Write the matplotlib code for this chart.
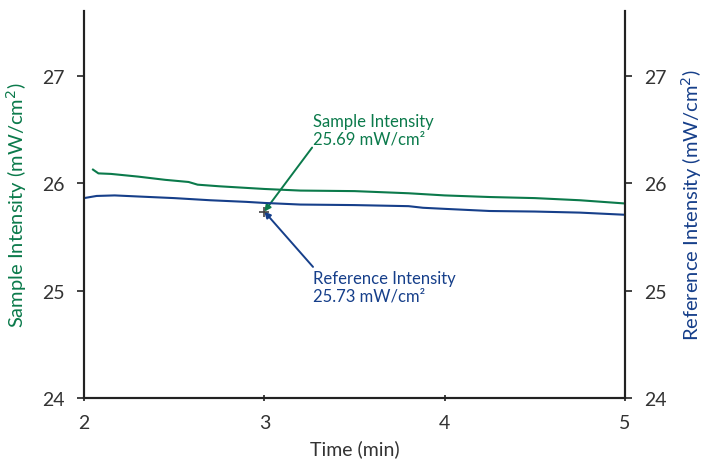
import matplotlib
matplotlib.use("Agg")
import matplotlib.pyplot as plt

GREEN = "#0b7a4b"
BLUE = "#163f8a"
GRAY = "#333333"

# Sample intensity trace (min, mW/cm2)
sample_time = [2.05, 2.08, 2.15, 2.3, 2.45, 2.58, 2.63, 2.75, 2.9, 3.0, 3.2,
               3.5, 3.8, 4.0, 4.25, 4.5, 4.75, 5.0]
sample_vals = [26.125, 26.09, 26.085, 26.06, 26.03, 26.01, 25.985, 25.97,
               25.955, 25.945, 25.93, 25.925, 25.905, 25.885, 25.87, 25.86,
               25.84, 25.81]

# Reference intensity trace
ref_time = [2.0, 2.07, 2.17, 2.3, 2.5, 2.7, 2.9, 3.0, 3.2, 3.5, 3.8, 3.88,
            4.0, 4.25, 4.5, 4.75, 5.0]
ref_vals = [25.86, 25.88, 25.885, 25.875, 25.86, 25.84, 25.825, 25.815,
            25.80, 25.795, 25.785, 25.77, 25.76, 25.74, 25.735, 25.725, 25.705]

marker_x, marker_y = 3.0, 25.735
x_ticks = [2, 3, 4, 5]
y_ticks = [24, 25, 26, 27]

plt.rcParams["font.family"] = ["Lato", "DejaVu Sans"]

fig = plt.figure(figsize=(7.07, 4.64), dpi=100)
ax = fig.add_axes([0.1188, 0.140, 0.7652, 0.834])
ax2 = ax.twinx()

ax.plot(sample_time, sample_vals, color=GREEN, linewidth=1.5)
ax2.plot(ref_time, ref_vals, color=BLUE, linewidth=1.5)
ax.plot([marker_x], [marker_y], marker="+", color="#444444",
        markersize=7, markeredgewidth=1.2, zorder=5)

# arrows from just beside the labels down to the marker
ax.annotate("", xy=(marker_x, marker_y), xytext=(3.265, 26.33),
            arrowprops=dict(arrowstyle="-|>", color=GREEN, lw=1.4,
                            shrinkA=0, shrinkB=0, mutation_scale=9))
ax.annotate("", xy=(marker_x, marker_y), xytext=(3.27, 25.22),
            arrowprops=dict(arrowstyle="-|>", color=BLUE, lw=1.4,
                            shrinkA=0, shrinkB=0, mutation_scale=9))
ax.text(3.27, 26.65, "Sample Intensity\n25.69 mW/cm\u00b2", color=GREEN,
        fontsize=12, va="top", ha="left", linespacing=1.1)
ax.text(3.27, 25.19, "Reference Intensity\n25.73 mW/cm\u00b2", color=BLUE,
        fontsize=12, va="top", ha="left", linespacing=1.1)

for a in (ax, ax2):
    a.set_xlim(2, 5)
    a.set_ylim(24, 27.6)
    a.set_yticks(y_ticks)
    a.spines["top"].set_visible(False)
    for s in a.spines.values():
        s.set_color("#222222")
        s.set_linewidth(1.5)
    a.tick_params(axis="y", direction="out", length=5, width=1.2,
                  labelsize=14, labelcolor=GRAY, color="#222222", pad=9)

ax.set_xticks(x_ticks)
ax.tick_params(axis="x", direction="inout", length=5, width=1.2,
               labelsize=14, labelcolor=GRAY, color="#222222", pad=9)

ax.set_xlabel("Time (min)", fontsize=14, color=GRAY, labelpad=6)
ax.set_ylabel("Sample Intensity (mW/cm$^2$)", fontsize=14.5, color=GREEN, labelpad=9)
ax2.set_ylabel("Reference Intensity (mW/cm$^2$)", fontsize=14.5, color=BLUE, labelpad=9)

fig.savefig("out.png", dpi=100)
